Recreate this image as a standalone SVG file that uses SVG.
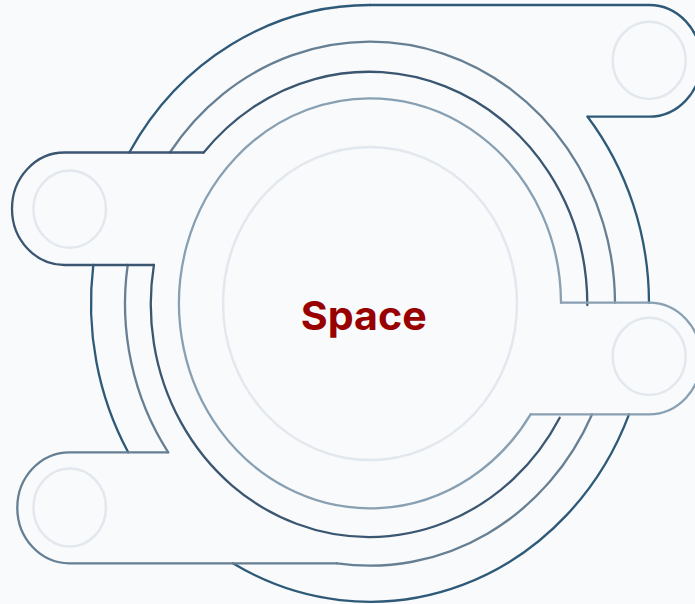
<svg xmlns="http://www.w3.org/2000/svg" width="695" height="604" viewBox="0 0 695 604">
  <style>
    .bg { fill: #f8fafc; }
    .ln { fill: none; stroke-width: 2.3; stroke-linecap: round; stroke-linejoin: miter; }
    .c5 { stroke: #2e5a78; }
    .c4 { stroke: #667f93; }
    .c3 { stroke: #3b5670; }
    .c2 { stroke: #88a0b2; }
    .ghost { fill: none; stroke: #e2e8ed; stroke-width: 2.5; }
    .label { font-family: Inter, "Open Sans", "Liberation Sans", sans-serif; font-weight: 700; font-size: 40px; fill: #990000; }
  </style>
  <rect class="bg" x="0" y="0" width="695" height="604"/>

  <g id="connectors">
    <!-- outer ring -->
    <path class="ln c5" d="M 129.3 152.5 A 279 298.4 0 0 1 370 5"/>
    <path class="ln c5" d="M 587.6 116.7 A 279 298.4 0 0 1 649 302.7"/>
    <path class="ln c5" d="M 93.3 265 A 279 298.4 0 0 0 128.2 452.3"/>
    <path class="ln c5" d="M 629 414.3 A 279 298.4 0 0 1 232.9 563.3"/>
    <!-- ring 4 -->
    <path class="ln c4" d="M 615 302.7 A 245 262 0 0 0 169.9 152.5"/>
    <path class="ln c4" d="M 127.7 265 A 245 262 0 0 0 168.2 452.3"/>
    <path class="ln c4" d="M 336.9 563.3 A 245 262 0 0 0 592.1 414.3"/>
    <!-- ring 3 -->
    <path class="ln c3" d="M 587.3 305 A 218.3 232.8 0 0 0 203.7 152.5"/>
    <path class="ln c3" d="M 153.9 265 A 218.3 232.8 0 0 0 559.7 417.7"/>
    <!-- ring 2 -->
    <path class="ln c2" d="M 561 302.7 A 191 205 0 1 0 530.6 414.3"/>
  </g>

  <g id="tab-top-right">
    <path class="ln c5" d="M 370 5 L 649 5 A 52.2 55.85 0 0 1 649 116.7 L 587.6 116.7"/>
    <ellipse class="ghost" cx="649.2" cy="60.4" rx="36.5" ry="38.6"/>
  </g>

  <g id="tab-left">
    <path class="ln c3" d="M 203.7 152.5 L 64.5 152.5 A 52.5 56.25 0 0 0 64.5 265 L 153.9 265"/>
    <ellipse class="ghost" cx="69.7" cy="209.2" rx="36.3" ry="38.6"/>
  </g>

  <g id="tab-right">
    <path class="ln c2" d="M 561 302.7 L 649 302.7 A 52.2 55.8 0 0 1 649 414.3 L 530.6 414.3"/>
    <ellipse class="ghost" cx="649.2" cy="356.4" rx="36.5" ry="38.7"/>
  </g>

  <g id="tab-bottom-left">
    <path class="ln c4" d="M 168.2 452.3 L 69.5 452.3 A 52.2 55.5 0 0 0 69.5 563.3 L 336.9 563.3"/>
    <ellipse class="ghost" cx="69.7" cy="507.5" rx="36.3" ry="39"/>
  </g>

  <g id="center">
    <ellipse class="ghost" cx="370" cy="303.5" rx="147" ry="156.6"/>
    <text class="label" x="300.7" y="329.5" textLength="126" lengthAdjust="spacingAndGlyphs">Space</text>
  </g>
</svg>
